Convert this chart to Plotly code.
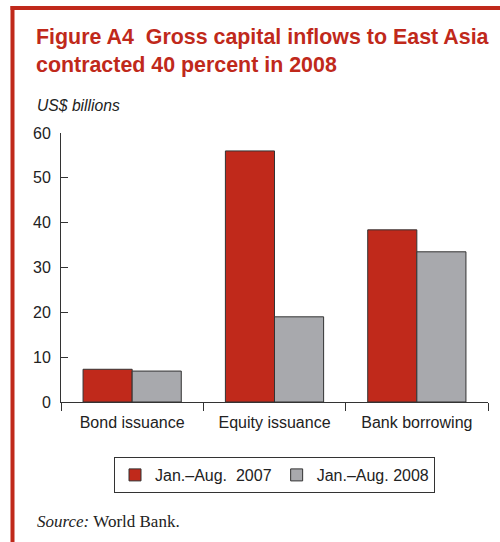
import plotly.graph_objects as go

categories = ["Bond issuance", "Equity issuance", "Bank borrowing"]
series_names = ["Jan.–Aug.  2007", "Jan.–Aug. 2008"]
values_2007 = [7.3, 56.0, 38.4]
values_2008 = [6.9, 19.0, 33.5]
y_ticks = [0, 10, 20, 30, 40, 50, 60]

W, H = 500, 542
L, R, T, B = 61, 488, 133, 402


def px(x):
    return (x - L) / (R - L)


def py(y):
    return (B - y) / (B - T)


RED = "#C0291B"
GRAY = "#A8A9AD"
OUT = "#333333"
TXT = "#222222"
FONT = "Liberation Sans, Arial, sans-serif"

fig = go.Figure()
fig.add_trace(go.Bar(x=categories, y=values_2007, name=series_names[0],
                     marker=dict(color=RED, line=dict(color=OUT, width=1))))
fig.add_trace(go.Bar(x=categories, y=values_2008, name=series_names[1],
                     marker=dict(color=GRAY, line=dict(color=OUT, width=1))))

fig.update_layout(
    width=W, height=H,
    margin=dict(l=L, r=W - R, t=T, b=H - B, pad=0),
    paper_bgcolor="white", plot_bgcolor="white",
    barmode="group", bargap=0.31, bargroupgap=0,
    font=dict(family=FONT, size=16, color=TXT),
    showlegend=True,
    legend=dict(orientation="h", x=px(114), y=py(457), xanchor="left", yanchor="top",
                bordercolor=OUT, borderwidth=1, font=dict(size=16, color=TXT),
                traceorder="normal", itemwidth=30),
    xaxis=dict(showline=True, linecolor=OUT, linewidth=1, ticks="outside",
               tickson="boundaries", ticklen=8, tickcolor=OUT, showgrid=False,
               ticklabelstandoff=6,
               tickfont=dict(size=16, color=TXT), fixedrange=True),
    yaxis=dict(range=[0, 60], tickvals=y_ticks, showline=True, linecolor=OUT, linewidth=1,
               ticks="inside", ticklen=7, tickcolor=OUT, showgrid=False, zeroline=False,
               ticklabelstandoff=6,
               tickfont=dict(size=16, color=TXT), fixedrange=True),
)

# frame
fig.add_shape(type="line", xref="paper", yref="paper", x0=px(12.5), x1=px(12.5),
              y0=py(6), y1=py(545), line=dict(color=RED, width=4))
fig.add_shape(type="line", xref="paper", yref="paper", x0=px(10.5), x1=px(502),
              y0=py(8), y1=py(8), line=dict(color=RED, width=4))

fig.add_annotation(xref="paper", yref="paper", x=px(34), y=py(23), xanchor="left", yanchor="top",
                   showarrow=False, align="left",
                   text="<b>Figure A4  Gross capital inflows to East Asia<br>contracted 40 percent in 2008</b>",
                   font=dict(family=FONT, size=21.4, color=RED))
fig.add_annotation(xref="paper", yref="paper", x=px(35), y=py(105), xanchor="left", yanchor="middle",
                   showarrow=False, text="<i>US$ billions</i>",
                   font=dict(family=FONT, size=15.7, color=TXT))
fig.add_annotation(xref="paper", yref="paper", x=px(35), y=py(521), xanchor="left", yanchor="middle",
                   showarrow=False, text="<i>Source:</i> World Bank.",
                   font=dict(family="Liberation Serif, Times New Roman, serif", size=17, color=TXT))

fig.write_html("out.html")
